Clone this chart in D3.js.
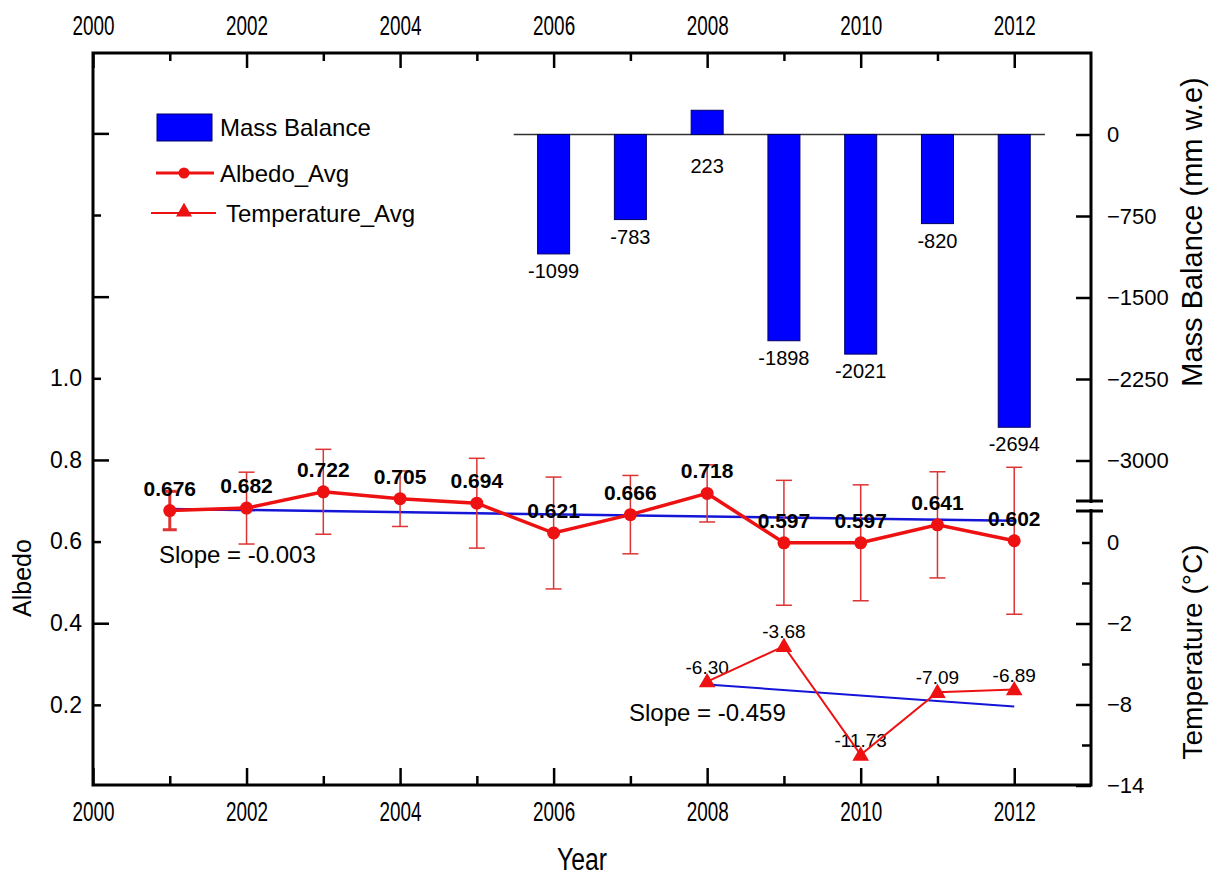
<!DOCTYPE html>
<html><head><meta charset="utf-8">
<script src="https://cdn.jsdelivr.net/npm/d3@7"></script>
<style>
html,body{margin:0;padding:0;background:#fff;}
svg{display:block;font-family:"Liberation Sans",Arial,sans-serif;}
</style></head><body>
<svg id="c" width="1214" height="879"></svg>
<script>
// ---- data ----
const years = [2001,2002,2003,2004,2005,2006,2007,2008,2009,2010,2011,2012];
const albedo = [0.676,0.682,0.722,0.705,0.694,0.621,0.666,0.718,0.597,0.597,0.641,0.602];
const albedoErr = [0.047,0.088,0.104,0.068,0.110,0.137,0.096,0.070,0.153,0.142,0.130,0.180];
const massYears = [2006,2007,2008,2009,2010,2011,2012];
const massBalance = [-1099,-783,223,-1898,-2021,-820,-2694];
const tempYears = [2008,2009,2010,2011,2012];
const temperature = [-6.30,-3.68,-11.73,-7.09,-6.89];
const albedoTrendYears = [2001,2012];
const albedoTrend = [0.680,0.651];
const tempTrendYears = [2008,2012];
const tempTrend = [-6.52,-8.15];
const yearTicks = [2000,2002,2004,2006,2008,2010,2012];
const yearMinor = [2001,2003,2005,2007,2009,2011];
const albedoTicks = [0.2,0.4,0.6,0.8,1.0];
const albedoLong = [0.4,0.8,1.2,1.6];
const albedoShort = [0.2,0.6,1.0,1.4];
const massTicks = [0,-750,-1500,-2250,-3000];
const tempTicks = [0,-2,-8,-14];
const tempMinor = [-1,-5,-11];

// ---- layout ----
const L=93,R=1091,T=53,B=785;
const svg=d3.select("#c");
const x=d3.scaleLinear().domain([2000,2013]).range([L,R]);
const yA=d3.scaleLinear().domain([0,1]).range([786.5,378.3]);
const yM=d3.scaleLinear().domain([0,-3000]).range([134.5,460.5]);
const yT=d3.scaleLinear().domain([0,-2,-14]).range([542.5,623.5,785.5]);
const red="#ee1111", ebRed="#dd3333", blue="#0000ff", trendBlue="#1515d8";

// bars
const bw=32;
svg.append("line").attr("x1",x(2005.48)).attr("x2",x(2012.4)).attr("y1",yM(0)).attr("y2",yM(0))
  .attr("stroke","#333").attr("stroke-width",1.5);
svg.selectAll("rect.bar").data(massYears.map((d,i)=>({yr:d,v:massBalance[i]}))).join("rect")
  .attr("class","bar").attr("x",d=>x(d.yr)-bw/2).attr("width",bw)
  .attr("y",d=>Math.min(yM(0),yM(d.v))).attr("height",d=>Math.abs(yM(d.v)-yM(0)))
  .attr("fill",blue).attr("stroke","#000066").attr("stroke-width",1);
svg.selectAll("text.bl").data(massYears.map((d,i)=>({yr:d,v:massBalance[i]}))).join("text")
  .attr("class","bl").attr("x",d=>x(d.yr)).attr("y",d=>d.v<0?yM(d.v)+24:yM(0)+38)
  .attr("text-anchor","middle").attr("font-size",20).text(d=>d.v);

// albedo trend
svg.append("line").attr("x1",x(albedoTrendYears[0])).attr("x2",x(albedoTrendYears[1]))
  .attr("y1",yA(albedoTrend[0])).attr("y2",yA(albedoTrend[1])).attr("stroke",trendBlue).attr("stroke-width",2.5);

// error bars
const ad=years.map((d,i)=>({yr:d,v:albedo[i],e:albedoErr[i],i}));
const eb=svg.append("g");
ad.forEach(d=>{
  const sw=d.i===0?3:1.5, cw=d.i===0?14:16;
  eb.append("line").attr("x1",x(d.yr)).attr("x2",x(d.yr)).attr("y1",yA(d.v+d.e)).attr("y2",yA(d.v-d.e)).attr("stroke",ebRed).attr("stroke-width",sw);
  [d.v+d.e,d.v-d.e].forEach(v=>eb.append("line").attr("x1",x(d.yr)-cw/2).attr("x2",x(d.yr)+cw/2).attr("y1",yA(v)).attr("y2",yA(v)).attr("stroke",ebRed).attr("stroke-width",sw));
});
// albedo line
svg.append("path").datum(ad).attr("fill","none").attr("stroke",red).attr("stroke-width",3.5)
  .attr("d",d3.line().x(d=>x(d.yr)).y(d=>yA(d.v)));
svg.selectAll("circle.ap").data(ad).join("circle").attr("class","ap")
  .attr("cx",d=>x(d.yr)).attr("cy",d=>yA(d.v)).attr("r",6.5).attr("fill",red);
svg.selectAll("text.al").data(ad).join("text").attr("class","al")
  .attr("x",d=>x(d.yr)).attr("y",d=>yA(d.v)-15).attr("text-anchor","middle")
  .attr("font-size",21).attr("font-weight","bold").text(d=>d.v.toFixed(3));

// temperature
const td=tempYears.map((d,i)=>({yr:d,v:temperature[i]}));
svg.append("line").attr("x1",x(tempTrendYears[0])).attr("x2",x(tempTrendYears[1]))
  .attr("y1",yT(tempTrend[0])).attr("y2",yT(tempTrend[1])).attr("stroke",trendBlue).attr("stroke-width",2);
svg.selectAll("text.tl").data(td).join("text").attr("class","tl")
  .attr("x",d=>x(d.yr)).attr("y",d=>yT(d.v)-8).attr("text-anchor","middle")
  .attr("font-size",19).text(d=>d.v.toFixed(2));
svg.append("path").datum(td).attr("fill","none").attr("stroke",red).attr("stroke-width",2)
  .attr("d",d3.line().x(d=>x(d.yr)).y(d=>yT(d.v)));
const tri=d3.symbol().type(d3.symbolTriangle).size(120);
svg.selectAll("path.tp").data(td).join("path").attr("class","tp")
  .attr("transform",d=>`translate(${x(d.yr)},${yT(d.v)+1})`).attr("d",tri).attr("fill",red);

// slope texts
svg.append("text").attr("x",159).attr("y",563).attr("font-size",24).text("Slope = -0.003");
svg.append("text").attr("x",629).attr("y",721).attr("font-size",24).text("Slope = -0.459");

// ---- axes ----
const axG=svg.append("g");
function style(g){g.select(".domain").remove();g.selectAll("line").attr("stroke","#000").attr("stroke-width",2.5);g.selectAll("text").attr("fill","#000");}
function condense(g){g.selectAll("text").attr("font-size",27).attr("transform","scale(0.7,1)");}
// bottom
axG.append("g").attr("transform",`translate(0,${B})`)
  .call(d3.axisBottom(x).tickValues(yearTicks).tickSize(-17).tickPadding(17).tickFormat(d3.format("d")))
  .call(style).call(condense);
axG.append("g").attr("transform",`translate(0,${B})`)
  .call(d3.axisBottom(x).tickValues(yearMinor).tickSize(-9).tickFormat("")).call(style);
// top
axG.append("g").attr("transform",`translate(0,${T})`)
  .call(d3.axisTop(x).tickValues(yearTicks).tickSize(-15).tickPadding(18).tickFormat(d3.format("d")))
  .call(style).call(condense);
axG.append("g").attr("transform",`translate(0,${T})`)
  .call(d3.axisTop(x).tickValues(yearMinor).tickSize(-8).tickFormat("")).call(style);
// left
axG.append("g").attr("transform",`translate(${L},0)`)
  .call(d3.axisLeft(yA).tickValues(albedoLong).tickSize(-16).tickFormat("")).call(style);
axG.append("g").attr("transform",`translate(${L},0)`)
  .call(d3.axisLeft(yA).tickValues(albedoShort).tickSize(-8).tickFormat("")).call(style);
axG.append("g").attr("transform",`translate(${L},0)`)
  .call(d3.axisLeft(yA).tickValues(albedoTicks).tickSize(0).tickPadding(11).tickFormat(d3.format(".1f")))
  .call(style).call(g=>g.selectAll("text").attr("font-size",23));
// right mass
axG.append("g").attr("transform",`translate(${R},0)`)
  .call(d3.axisRight(yM).tickValues(massTicks).tickSize(-15).tickPadding(16).tickFormat(d3.format("d")))
  .call(style).call(g=>g.selectAll("text").attr("font-size",22));
// right temp
axG.append("g").attr("transform",`translate(${R},0)`)
  .call(d3.axisRight(yT).tickValues(tempTicks).tickSize(-15).tickPadding(16).tickFormat(d3.format("d")))
  .call(style).call(g=>g.selectAll("text").attr("font-size",22))
  .call(g=>g.selectAll(".tick line").filter(d=>d===0).attr("x2",-9));
axG.append("g").attr("transform",`translate(${R},0)`)
  .call(d3.axisRight(yT).tickValues(tempMinor).tickSize(-9).tickFormat("")).call(style);
// frame
axG.append("rect").attr("x",L).attr("y",T).attr("width",R-L).attr("height",B-T)
  .attr("fill","none").attr("stroke","#000").attr("stroke-width",3);
// break marks
[501,511].forEach(yy=>axG.append("line").attr("x1",R-15).attr("x2",R+12).attr("y1",yy).attr("y2",yy)
  .attr("stroke","#000").attr("stroke-width",3));
axG.append("rect").attr("x",R-2).attr("y",503).attr("width",4).attr("height",6).attr("fill","#fff");

// titles
svg.append("text").attr("transform","translate(582,870) scale(0.8,1)").attr("text-anchor","middle").attr("font-size",31).text("Year");
svg.append("text").attr("transform","translate(31,578) rotate(-90)").attr("text-anchor","middle").attr("font-size",25).text("Albedo");
svg.append("text").attr("transform","translate(1202,232) rotate(-90)").attr("text-anchor","middle").attr("font-size",29).text("Mass Balance (mm w.e)");
svg.append("text").attr("transform","translate(1202,652) rotate(-90)").attr("text-anchor","middle").attr("font-size",28).text("Temperature (\u00B0C)");

// legend
const lg=svg.append("g");
lg.append("rect").attr("x",157).attr("y",114).attr("width",55).attr("height",27).attr("fill",blue).attr("stroke","#000066");
lg.append("text").attr("x",220).attr("y",136).attr("font-size",24).text("Mass Balance");
lg.append("line").attr("x1",156).attr("x2",214).attr("y1",173).attr("y2",173).attr("stroke",red).attr("stroke-width",3);
lg.append("circle").attr("cx",184).attr("cy",173).attr("r",5.5).attr("fill",red);
lg.append("text").attr("x",220).attr("y",182).attr("font-size",24).text("Albedo_Avg");
lg.append("line").attr("x1",151).attr("x2",216).attr("y1",213).attr("y2",213).attr("stroke",red).attr("stroke-width",2);
lg.append("path").attr("transform","translate(184,212)").attr("d",d3.symbol().type(d3.symbolTriangle).size(110)).attr("fill",red);
lg.append("text").attr("x",226).attr("y",222).attr("font-size",24).text("Temperature_Avg");
</script></body></html>
